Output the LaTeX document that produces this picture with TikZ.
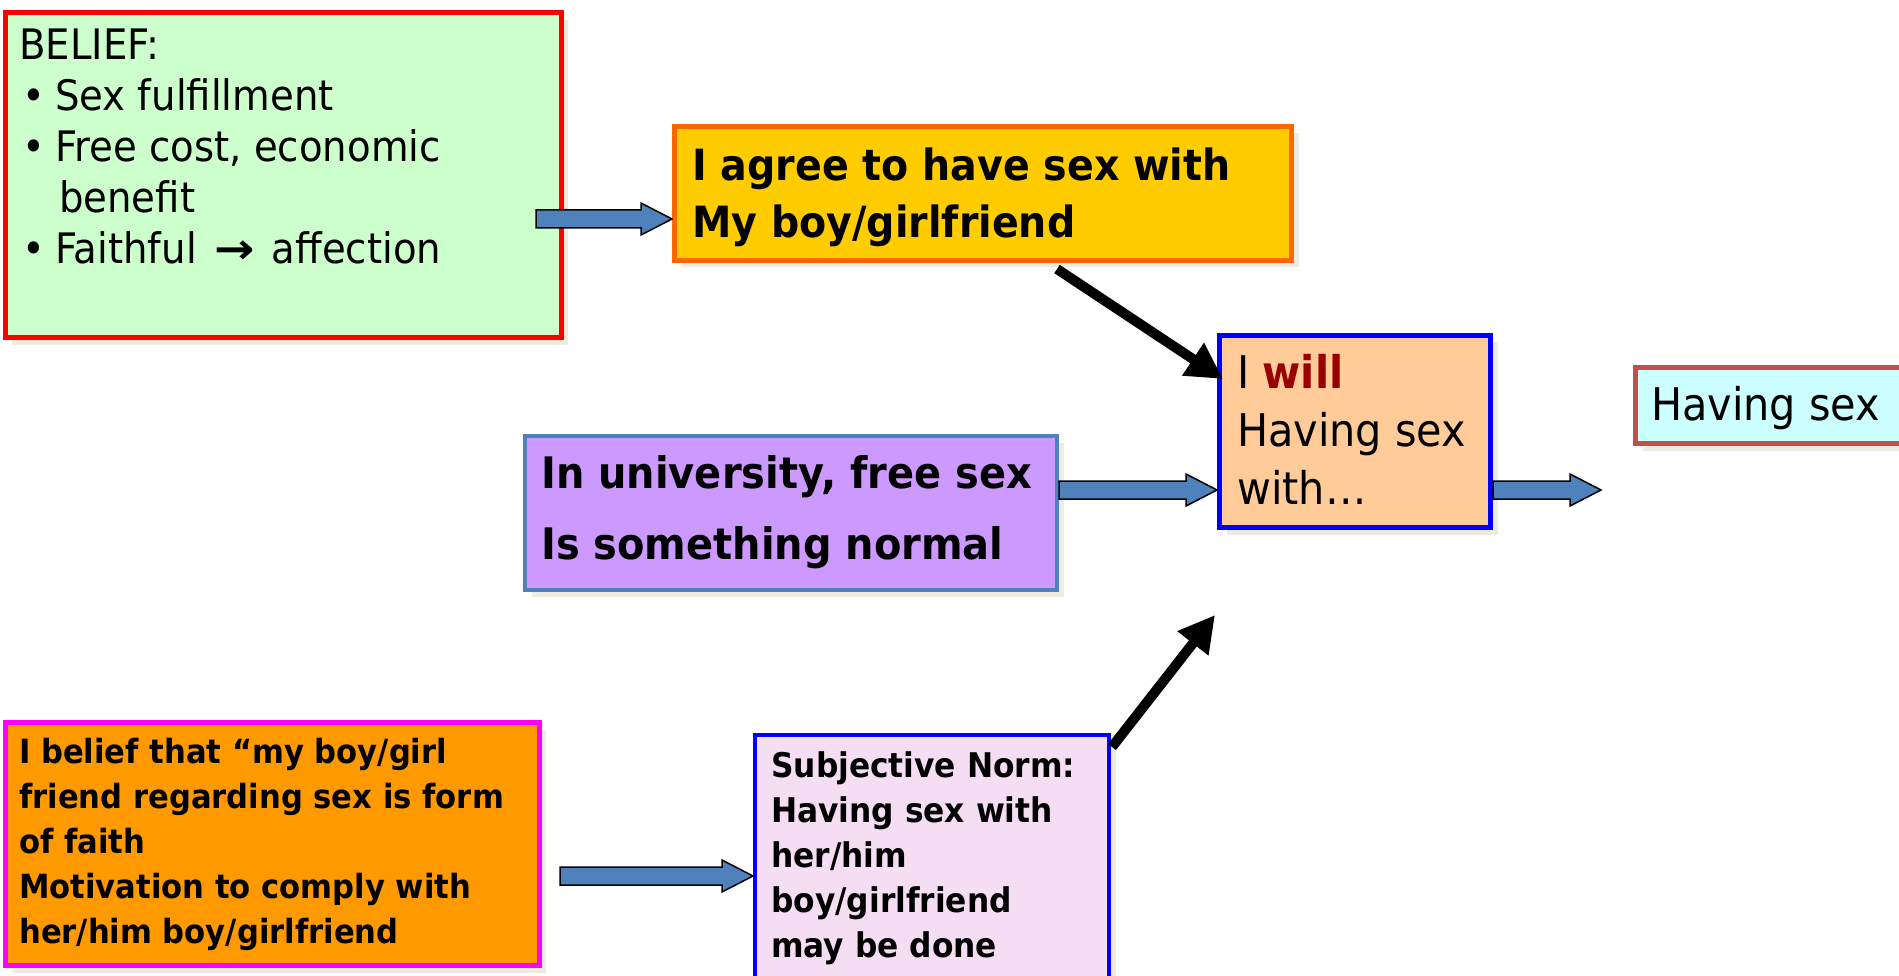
\documentclass[tikz,border=0pt]{standalone}
\usepackage{fontspec}
\setmainfont[FakeStretch=0.92]{DejaVu Sans}
\usetikzlibrary{arrows.meta,calc,shadows}
\definecolor{cgreen}{HTML}{CCFFCC}
\definecolor{cred}{HTML}{FF0000}
\definecolor{cyel}{HTML}{FFCC00}
\definecolor{corange}{HTML}{FF6600}
\definecolor{cviolet}{HTML}{CC99FF}
\definecolor{csteel}{HTML}{4F81BD}
\definecolor{cpeach}{HTML}{FFCC99}
\definecolor{cblue}{HTML}{0000FF}
\definecolor{ccyan}{HTML}{CCFFFF}
\definecolor{cbrick}{HTML}{C0504D}
\definecolor{corng}{HTML}{FF9900}
\definecolor{cmag}{HTML}{FF00FF}
\definecolor{cpink}{HTML}{F5DEF3}
\definecolor{cwill}{HTML}{990000}
\definecolor{cshadow}{HTML}{EEECE1}
\newcommand\blockarrow[2]{%
  \draw[barrow] let \p1=(#1), \p2=(#2) in
  (\x1,\y1+9pt) -- (\x2-31pt,\y1+9pt) -- (\x2-31pt,\y1+16pt) -- (\x2,\y1)
  -- (\x2-31pt,\y1-16pt) -- (\x2-31pt,\y1-9pt) -- (\x1,\y1-9pt) -- cycle;}
\tikzset{
  box/.style={draw, line width=5pt, inner sep=0pt, anchor=north west,
    drop shadow={shadow xshift=7pt, shadow yshift=-7pt, fill=cshadow, opacity=1}},
  txt/.style={anchor=north west, inner sep=0pt, align=left, text=black},
  barrow/.style={fill=csteel, draw=black, line width=1.5pt, line join=miter},
  karrow/.style={draw=black, line width=10pt, -{Triangle[length=36pt,width=37pt]}},
}
\begin{document}
\begin{tikzpicture}[x=1pt,y=-1pt]
\useasboundingbox (0,0) rectangle (1899,976);
% boxes
\node[box, draw=cred, fill=cgreen, minimum width=556pt, minimum height=325pt] (belief) at (2.5,10.5) {};
\node[box, draw=corange, fill=cyel, minimum width=617pt, minimum height=134pt] (agree) at (672,124) {};
\node[box, draw=csteel, fill=cviolet, line width=4pt, minimum width=532pt, minimum height=154pt] (univ) at (523,434) {};
\node[box, draw=cblue, fill=cpeach, minimum width=271pt, minimum height=192pt] (will) at (1217,333) {};
\node[box, draw=cbrick, fill=ccyan, minimum width=290pt, minimum height=76pt] (having) at (1633,365) {};
\node[box, draw=cmag, fill=corng, minimum width=534pt, minimum height=243pt] (faith) at (2.5,720) {};
\node[box, draw=cblue, fill=cpink, line width=4pt, minimum width=354pt, minimum height=260pt] (norm) at (753,733) {};
% texts
\node[txt, font=\fontsize{42}{51}\selectfont] (tbelief) at (19,23.3)
  {\strut BELIEF:\\
   \makebox[36pt][l]{\hspace{3pt}•}Sex fulfillment\\
   \makebox[36pt][l]{\hspace{3pt}•}Free cost, economic\\
   \hspace*{40pt}benefit\\
   \makebox[36pt][l]{\hspace{3pt}•}Faithful\hspace{5pt} \scalebox{1.25}[1]{\bfseries →} \hspace{5pt}affection};
\node[txt, font=\fontsize{43}{57}\bfseries\selectfont] (tagree) at (692,140.1)
  {\strut I agree to have sex with\\My boy/girlfriend};
\node[txt, font=\fontsize{43.4}{71}\bfseries\selectfont] (tuniv) at (541,438.3)
  {\strut In university, free sex\\Is something normal};
\node[txt, font=\fontsize{45}{58}\selectfont] (twill) at (1237,347.4)
  {\strut I \textcolor{cwill}{\textbf{will}}\\Having sex\\with…};
\node[txt, font=\fontsize{45}{48}\selectfont] (thaving) at (1651,386.4)
  {\strut Having sex};
\node[txt, font=\fontsize{33.3}{45}\bfseries\selectfont] (tfaith) at (19,731.5)
  {\strut I belief that “my boy/girl\\friend regarding sex is form\\of faith\\Motivation to comply with\\her/him boy/girlfriend};
\node[txt, font=\fontsize{34}{45}\bfseries\selectfont] (tnorm) at (771,745.5)
  {\strut Subjective Norm:\\Having sex with\\her/him\\boy/girlfriend\\may be done};
% block arrows
\coordinate (y1) at (0,219);
\coordinate (y2) at (0,490);
\coordinate (y4) at (0,876);
\coordinate (a1s) at (536,219);
\coordinate (a3e) at (1601,490);
\coordinate (a4s) at (560,876);
\blockarrow{a1s}{agree.west |- y1}
\blockarrow{univ.east |- y2}{will.west |- y2}
\blockarrow{will.east |- y2}{a3e}
\blockarrow{a4s}{norm.west |- y4}
% black arrows
\coordinate (k1s) at (1057,269);
\coordinate (k1e) at (1223,379);
\coordinate (k2s) at (1112,747);
\coordinate (k2e) at (1215,615);
\draw[karrow] (k1s) -- (k1e);
\draw[karrow] (k2s) -- (k2e);
\end{tikzpicture}
\end{document}
